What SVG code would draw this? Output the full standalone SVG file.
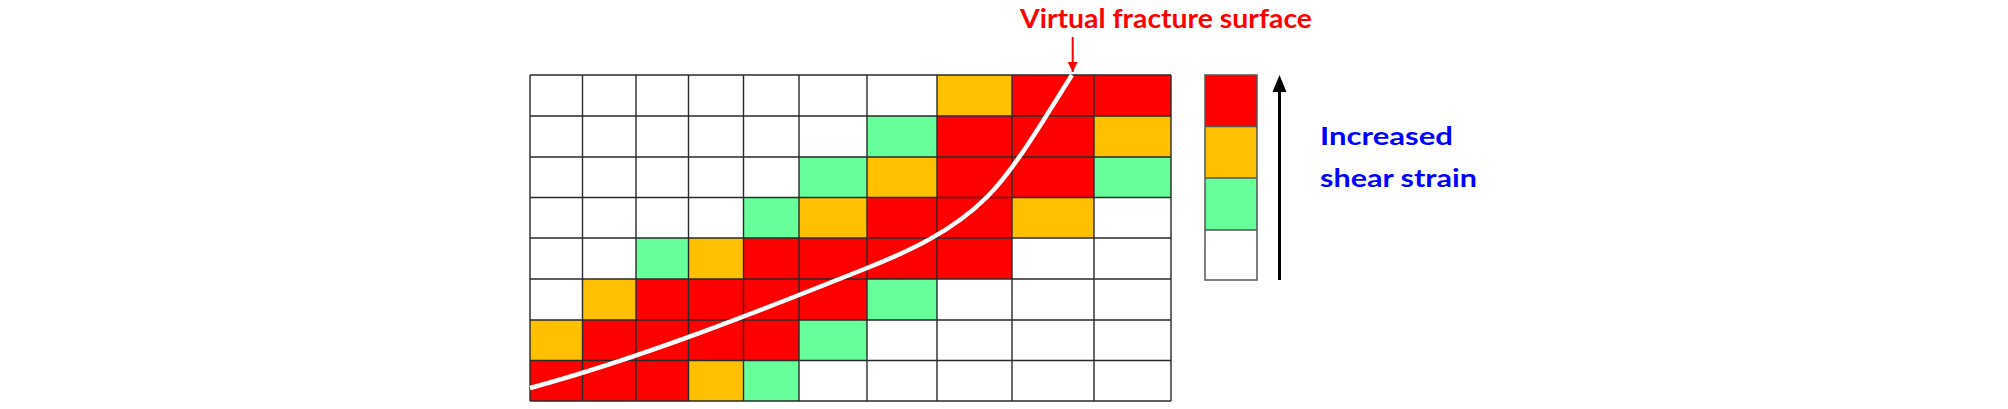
<svg xmlns="http://www.w3.org/2000/svg" width="2008" height="409" viewBox="0 0 2008 409">
<style>
.R{fill:#FF0000}.Y{fill:#FFC000}.G{fill:#66FF99}.W{fill:#FFFFFF}
.gl{stroke:#2a2a2a;stroke-width:1.4;fill:none}
.lg{stroke:#555;stroke-width:1.5;fill:none}
.lab{font-family:Lato,"Open Sans","Liberation Sans",sans-serif;font-weight:bold}
</style>
<defs>
<marker id="ahRed" viewBox="0 0 10 10" refX="10" refY="5" markerWidth="5" markerHeight="6.5" markerUnits="strokeWidth" orient="auto"><path d="M0,0 L10,5 L0,10 z" fill="#FF0000"/></marker>
</defs>
<rect width="2008" height="409" fill="#FFFFFF"/>
<g id="grid">
<rect x="530" y="75" width="641" height="326" class="W"/>
<!-- row 0 -->
<rect x="937" y="75" width="75" height="41" class="Y"/>
<rect x="1012" y="75" width="82" height="41" class="R"/>
<rect x="1094" y="75" width="77" height="41" class="R"/>
<!-- row 1 -->
<rect x="867" y="116" width="70" height="41" class="G"/>
<rect x="937" y="116" width="75" height="41" class="R"/>
<rect x="1012" y="116" width="82" height="41" class="R"/>
<rect x="1094" y="116" width="77" height="41" class="Y"/>
<!-- row 2 -->
<rect x="799" y="157" width="68" height="40.5" class="G"/>
<rect x="867" y="157" width="70" height="40.5" class="Y"/>
<rect x="937" y="157" width="75" height="40.5" class="R"/>
<rect x="1012" y="157" width="82" height="40.5" class="R"/>
<rect x="1094" y="157" width="77" height="40.5" class="G"/>
<!-- row 3 -->
<rect x="743.5" y="197.5" width="55.5" height="40.5" class="G"/>
<rect x="799" y="197.5" width="68" height="40.5" class="Y"/>
<rect x="867" y="197.5" width="70" height="40.5" class="R"/>
<rect x="937" y="197.5" width="75" height="40.5" class="R"/>
<rect x="1012" y="197.5" width="82" height="40.5" class="Y"/>
<!-- row 4 -->
<rect x="636" y="238" width="52.5" height="41" class="G"/>
<rect x="688.5" y="238" width="55" height="41" class="Y"/>
<rect x="743.5" y="238" width="268.5" height="41" class="R"/>
<!-- row 5 -->
<rect x="582.5" y="279" width="53.5" height="41" class="Y"/>
<rect x="636" y="279" width="231" height="41" class="R"/>
<rect x="867" y="279" width="70" height="41" class="G"/>
<!-- row 6 -->
<rect x="530" y="320" width="52.5" height="40.5" class="Y"/>
<rect x="582.5" y="320" width="216.5" height="40.5" class="R"/>
<rect x="799" y="320" width="68" height="40.5" class="G"/>
<!-- row 7 -->
<rect x="530" y="360.5" width="158.5" height="40.5" class="R"/>
<rect x="688.5" y="360.5" width="55" height="40.5" class="Y"/>
<rect x="743.5" y="360.5" width="55.5" height="40.5" class="G"/>
<path class="gl" d="M530,75V401M582.5,75V401M636,75V401M688.5,75V401M743.5,75V401M799,75V401M867,75V401M937,75V401M1012,75V401M1094,75V401M1171,75V401M530,75H1171M530,116H1171M530,157H1171M530,197.5H1171M530,238H1171M530,279H1171M530,320H1171M530,360.5H1171M530,401H1171"/>
</g>
<g id="fracture-curve">
<path d="M530,388 C640,358.3 757,312 867,268 C907,252 952,232 987,197 C1017,167 1050,109 1072,75" fill="none" stroke="#FFFFFF" stroke-width="4.5" stroke-linecap="butt"/>
</g>
<g id="legend">
<rect x="1205" y="75" width="52" height="51.5" class="R"/>
<rect x="1205" y="126.5" width="52" height="51.5" class="Y"/>
<rect x="1205" y="178" width="52" height="52" class="G"/>
<rect x="1205" y="230" width="52" height="50" class="W"/>
<path class="lg" d="M1205,75H1257V280H1205Z M1205,126.5H1257 M1205,178H1257 M1205,230H1257"/>
</g>
<g id="label-fracture">
<text class="lab" x="1020" y="28.3" font-size="26.5" fill="#FF0000" textLength="292" lengthAdjust="spacingAndGlyphs">Virtual fracture surface</text>
</g>
<g id="label-strain">
<text class="lab" x="1320" y="145" font-size="24.5" fill="#0000FF" textLength="133" lengthAdjust="spacingAndGlyphs">Increased</text>
<text class="lab" x="1320" y="186.5" font-size="24.5" fill="#0000FF" textLength="157" lengthAdjust="spacingAndGlyphs">shear strain</text>
</g>
<g id="connectors">
<line x1="1072.7" y1="37" x2="1072.7" y2="72" stroke="#FF0000" stroke-width="2" marker-end="url(#ahRed)"/>
<line x1="1279.5" y1="280" x2="1279.5" y2="90" stroke="#000000" stroke-width="3"/>
<path d="M1272.5,92 L1279.5,75 L1286.5,92 Z" fill="#000000"/>
</g>
</svg>
